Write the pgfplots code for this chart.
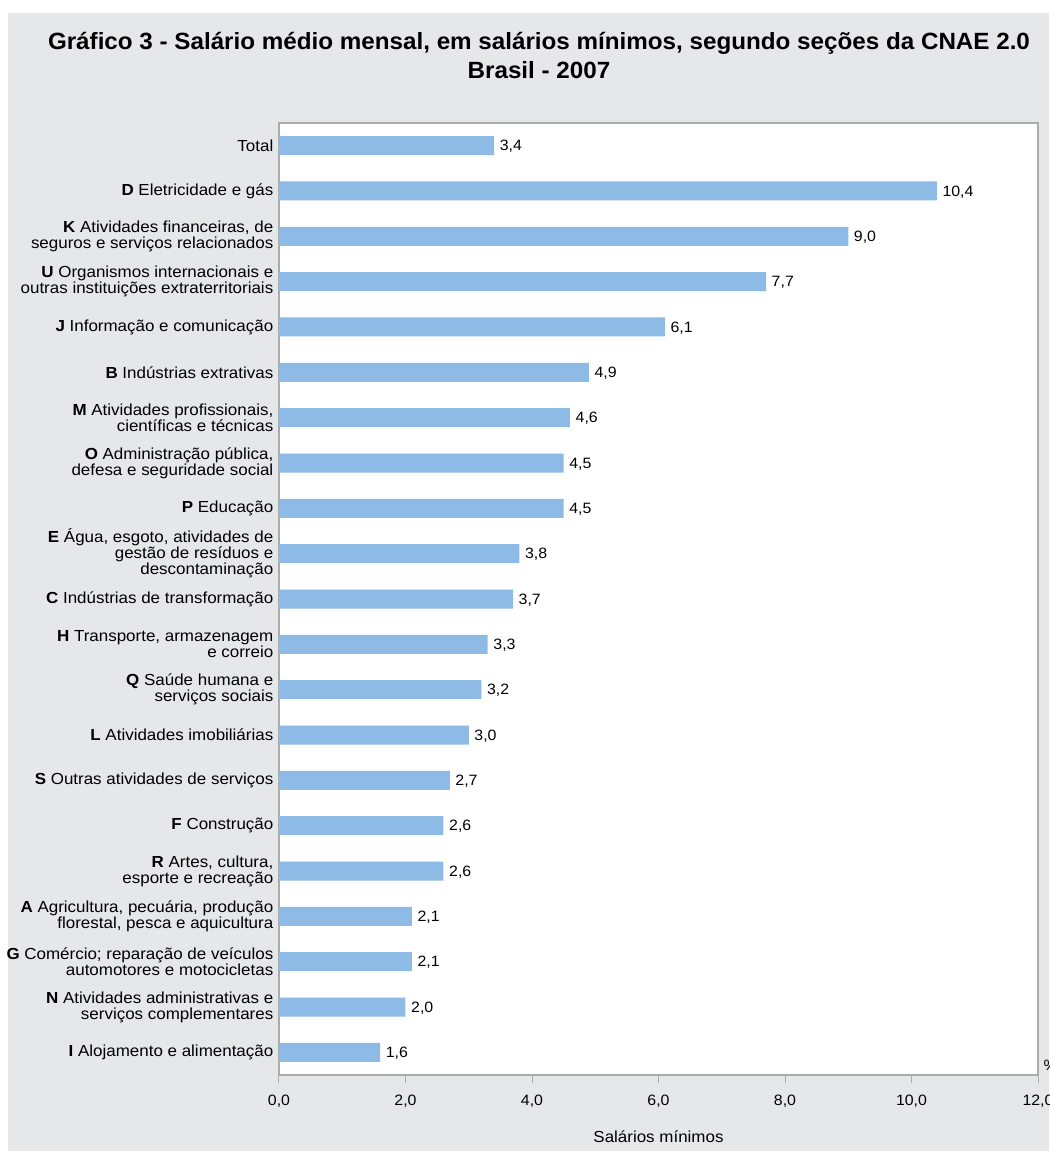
\documentclass[border=0pt]{standalone}
\usepackage{pgfplots}
\pgfplotsset{compat=1.18}
\usepackage{pgfplotstable}
\usepackage{fontspec}
\setmainfont[FakeStretch=1.06]{Liberation Sans}
\newfontfamily\titlefont[FakeStretch=1.03]{Liberation Sans}
\definecolor{bg}{HTML}{E6E7E8}
\definecolor{barc}{HTML}{8EBBE6}
\definecolor{framec}{HTML}{A9ABAE}
\newlength\px
\setlength\px{0.75pt}

\pgfplotstableread{
y x
0 3.4
1 10.4
2 9.0
3 7.7
4 6.1
5 4.9
6 4.6
7 4.5
8 4.5
9 3.8
10 3.7
11 3.3
12 3.2
13 3.0
14 2.7
15 2.6
16 2.6
17 2.1
18 2.1
19 2.0
20 1.6
}\data

\begin{document}
\begin{tikzpicture}
\useasboundingbox (-279\px,-76\px) rectangle (770\px,1075\px);
\fill[white] (-279\px,-76\px) rectangle (770\px,1075\px);
\fill[bg] (-271\px,-76\px) rectangle (770\px,1062\px);
\node[anchor=base, font=\titlefont\bfseries\fontsize{23.5\px}{26\px}\selectfont] at (260\px,1025\px)
  {Gráfico 3 - Salário médio mensal, em salários mínimos, segundo seções da CNAE 2.0};
\node[anchor=base, font=\titlefont\bfseries\fontsize{23.5\px}{26\px}\selectfont] at (260\px,996\px)
  {Brasil - 2007};
\begin{axis}[
  at={(0,0)}, anchor=south west,
  scale only axis, width=759\px, height=952\px,
  xmin=0, xmax=12, ymin=-0.5, ymax=20.5, y dir=reverse,
  axis background/.style={fill=white},
  axis line style={draw=framec, line width=1.2\px},
  tick align=outside, major tick length=8\px, minor tick length=5\px,
  tick style={draw=framec, line width=1\px},
  xtick pos=bottom, ytick pos=left,
  xtick={0,2,...,12},
  xticklabels={{0,0},{2,0},{4,0},{6,0},{8,0},{10,0},{12,0}},
  xticklabel style={font=\fontsize{15\px}{18\px}\selectfont, text=black, yshift=-7\px},
  ytick=\empty,
  minor ytick={-0.5,0.5,...,20.5},
  extra y ticks={0,...,20},
  extra y tick style={major tick length=0pt, tick style={draw=none}},
  yticklabel style={align=right, font=\fontsize{16\px}{16\px}\selectfont, text=black, xshift=-1\px},
  extra y tick labels={
    Total,
    {\textbf{D} Eletricidade e gás},
    {\textbf{K} Atividades financeiras, de\\seguros e serviços relacionados},
    {\textbf{U} Organismos internacionais e\\outras instituições extraterritoriais},
    {\textbf{J} Informação e comunicação},
    {\textbf{B} Indústrias extrativas},
    {\textbf{M} Atividades profissionais,\\científicas e técnicas},
    {\textbf{O} Administração pública,\\defesa e seguridade social},
    {\textbf{P} Educação},
    {\textbf{E} Água, esgoto, atividades de\\gestão de resíduos e\\descontaminação},
    {\textbf{C} Indústrias de transformação},
    {\textbf{H} Transporte, armazenagem\\e correio},
    {\textbf{Q} Saúde humana e\\serviços sociais},
    {\textbf{L} Atividades imobiliárias},
    {\textbf{S} Outras atividades de serviços},
    {\textbf{F} Construção},
    {\textbf{R} Artes, cultura,\\esporte e recreação},
    {\textbf{A} Agricultura, pecuária, produção\\florestal, pesca e aquicultura},
    {\textbf{G} Comércio; reparação de veículos\\automotores e motocicletas},
    {\textbf{N} Atividades administrativas e\\serviços complementares},
    {\textbf{I} Alojamento e alimentação}
  },
  clip=false,
]
\addplot[xbar, fill=barc, draw=none, bar width=19\px, bar shift=0pt,
  point meta=x,
  nodes near coords={\pgfmathprintnumber[assume math mode=true, fixed, fixed zerofill, precision=1, use comma]{\pgfplotspointmeta}},
  nodes near coords style={anchor=west, font=\fontsize{15\px}{18\px}\selectfont, text=black, xshift=1\px, yshift=-1\px}
] table[x=x, y=y] {\data};
\node[font=\fontsize{16\px}{18\px}\selectfont, anchor=base] at (rel axis cs:0.5,0) [yshift=-67\px] {Salários mínimos};
\node[font=\fontsize{15\px}{18\px}\selectfont, anchor=base west] at (rel axis cs:1,0) [xshift=1\px, yshift=5\px] {\%};
\end{axis}
\end{tikzpicture}
\end{document}
